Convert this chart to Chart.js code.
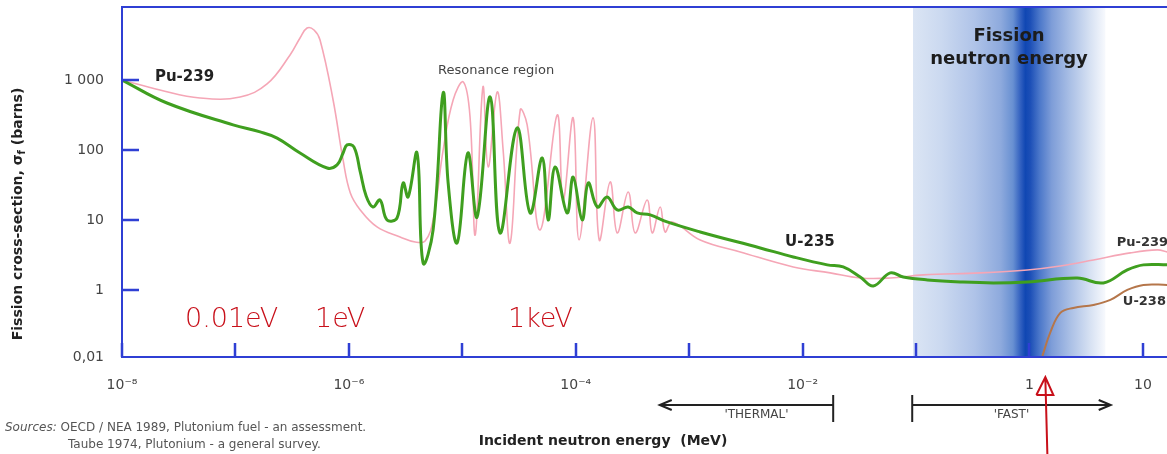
<!DOCTYPE html>
<html>
<head>
<meta charset="utf-8">
<script src="https://cdn.jsdelivr.net/npm/chart.js@4.4.1/dist/chart.umd.min.js"></script>
<style>
  html, body { margin: 0; padding: 0; background: #fff; }
  #wrap { width: 1167px; height: 454px; position: relative; }
</style>
</head>
<body>
<div id="wrap"><canvas id="grafico"></canvas></div>
<script>
// energy in MeV, fission cross-section in barns
const u235Energy = [1e-8, 2.49e-8, 9.53e-8, 1.65e-7, 2.33e-7, 3.71e-7, 6.43e-7, 7.87e-7, 8.89e-7, 9.64e-7,
  1.11e-6, 1.26e-6, 1.42e-6, 1.63e-6, 1.88e-6, 2.17e-6, 2.66e-6, 3.01e-6, 3.33e-6, 3.99e-6,
  4.51e-6, 5.53e-6, 6.78e-6, 7.50e-6, 9.00e-6, 1.12e-5, 1.35e-5, 1.76e-5, 2.15e-5, 3.04e-5,
  3.96e-5, 5.06e-5, 5.71e-5, 6.58e-5, 8.39e-5, 9.49e-5, 1.14e-4, 1.29e-4, 1.55e-4, 1.89e-4,
  2.32e-4, 2.90e-4, 3.48e-4, 4.53e-4, 6.39e-4, 1.25e-3, 4.23e-3, 8.27e-3, 1.65e-2, 2.28e-2,
  3.22e-2, 4.20e-2, 5.92e-2, 7.71e-2, 0.126, 0.245, 0.480, 0.957, 2.64, 4.48, 7.28, 10.1, 16.4];
const u235Sigma = [1000, 469, 228, 181, 148, 90.6, 55.3, 61.1, 90.6, 118,
  110, 48.5, 22.0, 15.3, 19.3, 10, 10.7, 33.8, 21.3, 90.6,
  2.43, 7.2, 652, 33.8, 4.7, 90.6, 11.0, 572, 6.52, 206,
  12.6, 76.9, 10, 57.2, 12.6, 41.1, 10, 33.8, 15.3, 21.3,
  13.9, 15.3, 12.6, 11.8, 9.36, 6.74, 3.98, 2.96, 2.28, 2.13,
  1.53, 1.14, 1.75, 1.53, 1.39, 1.30, 1.26, 1.30, 1.48, 1.26, 1.93, 2.28, 2.28];

const pu239Energy = [1e-8, 2.16e-8, 4.87e-8, 1.10e-7, 1.90e-7, 3.03e-7, 3.71e-7, 4.28e-7, 4.93e-7, 5.57e-7,
  7.26e-7, 8.89e-7, 1.03e-6, 1.26e-6, 1.77e-6, 2.83e-6, 3.84e-6, 4.70e-6, 5.53e-6, 6.78e-6,
  8.30e-6, 1.02e-5, 1.17e-5, 1.30e-5, 1.52e-5, 1.69e-5, 2.03e-5, 2.29e-5, 2.64e-5, 3.24e-5,
  3.73e-5, 4.85e-5, 6.86e-5, 7.74e-5, 9.49e-5, 1.07e-4, 1.42e-4, 1.61e-4, 2.01e-4, 2.32e-4,
  2.90e-4, 3.34e-4, 4.26e-4, 4.72e-4, 5.55e-4, 6.14e-4, 7.08e-4, 1.25e-3, 2.82e-3, 8.27e-3,
  1.75e-2, 3.22e-2, 5.92e-2, 0.116, 0.368, 0.957, 1.87, 3.66, 7.74, 13.4, 16.4];
const pu239Sigma = [1000, 720, 553, 572, 877, 2275, 3981, 5530, 5180, 3728,
  518, 72, 24.3, 13.9, 7.94, 5.72, 4.85, 5.01, 10, 100,
  518, 936, 296, 6.1, 794, 57, 674, 100, 4.7, 373,
  228, 7.2, 316, 19.3, 287, 5.18, 287, 5.18, 34.9, 6.52,
  25.1, 6.52, 19.3, 6.52, 15.3, 6.74, 9.36, 5.18, 3.49, 2.13,
  1.75, 1.48, 1.48, 1.64, 1.75, 1.93, 2.20, 2.68, 3.38, 3.73, 3.49];

const u238Energy = [1.30, 1.52, 1.87, 2.43, 3.66, 5.16, 7.28, 10.1, 16.4];
const u238Sigma = [0.114, 0.243, 0.469, 0.553, 0.610, 0.720, 1.0, 1.18, 1.18];

// axes
const xTicks = [1e-8, 1e-7, 1e-6, 1e-5, 1e-4, 1e-3, 1e-2, 1e-1, 1, 10];
const xTickLabels = ["10⁻⁸", "", "10⁻⁶", "", "10⁻⁴", "", "10⁻²", "", "1", "10"];
const yTicks = [0.11, 1, 10, 100, 1000];
const yTickLabels = ["0,01", "1", "10", "100", "1 000"];
const xMin = 1e-8, xMax = 16.3, yMin = 0.11, yMax = 11040;

// fission neutron energy band (MeV)
const bandStart = 0.094, bandPeak = 0.92, bandEnd = 4.66;
// 'THERMAL' / 'FAST' brackets (MeV) and the red arrow
const thermalFrom = 5.5e-4, thermalTo = 0.0186;
const fastFrom = 0.0925, fastTo = 5.2;
const arrowAt = 1.38;

const axisColor = "#2f3fd4";

Chart.defaults.font.family = "'DejaVu Sans', sans-serif";

function pontos(en, sg) {
  return en.map((e, i) => ({ x: e, y: sg[i] }));
}

// blue band behind the curves
const faixa = {
  id: "faixa",
  beforeDatasetsDraw(chart) {
    const { ctx, chartArea: a, scales: { x } } = chart;
    const xl = x.getPixelForValue(bandStart);
    const xc = x.getPixelForValue(bandPeak);
    const xr = x.getPixelForValue(bandEnd);
    const w = xr - xl;
    const f = (px) => Math.min(1, Math.max(0, (px - xl) / w));
    const g = ctx.createLinearGradient(xl, 0, xr, 0);
    const left = [[0, "#dbe5f4"], [0.25, "#cbd9f0"], [0.55, "#afc3e8"], [0.78, "#8eaadd"],
      [0.89, "#6890d2"], [0.96, "#2f5ebf"], [1, "#1047b3"]];
    const right = [[0.06, "#1c4fb7"], [0.18, "#4c78ca"], [0.33, "#7e9dd8"], [0.55, "#a8bee5"],
      [0.8, "#d5e0f2"], [1, "#f7f9fd"]];
    left.forEach(([t, c]) => g.addColorStop(f(xl + t * (xc - xl)), c));
    right.forEach(([t, c]) => g.addColorStop(f(xc + t * (xr - xc)), c));
    ctx.save();
    ctx.fillStyle = g;
    ctx.fillRect(xl, a.top, w, a.bottom - a.top);
    ctx.restore();
  }
};

// frame and inward ticks
const moldura = {
  id: "moldura",
  afterDatasetsDraw(chart) {
    const { ctx, chartArea: a, scales: { x, y } } = chart;
    ctx.save();
    ctx.strokeStyle = axisColor;
    ctx.lineWidth = 2.5;
    ctx.beginPath();
    yTicks.forEach((v) => {
      if (v === yMin) return;
      const py = Math.round(y.getPixelForValue(v));
      ctx.moveTo(a.left, py);
      ctx.lineTo(a.left + 17, py);
    });
    xTicks.forEach((v) => {
      const px = Math.round(x.getPixelForValue(v));
      ctx.moveTo(px, a.bottom);
      ctx.lineTo(px, a.bottom - 14);
    });
    ctx.stroke();
    ctx.lineWidth = 2;
    ctx.beginPath();
    ctx.moveTo(a.right, a.top);
    ctx.lineTo(a.left, a.top);
    ctx.lineTo(a.left, a.bottom);
    ctx.lineTo(a.right, a.bottom);
    ctx.stroke();
    ctx.restore();
  }
};

// labels, titles, brackets, notes
const textos = {
  id: "textos",
  afterDraw(chart) {
    const { ctx, scales: { x, y } } = chart;
    ctx.save();
    ctx.textBaseline = "middle";
    ctx.fillStyle = "#222";

    ctx.font = "bold 15px 'DejaVu Sans'";
    ctx.textAlign = "left";
    ctx.fillText("Pu-239", x.getPixelForValue(1.95e-8), y.getPixelForValue(1104));
    ctx.textAlign = "center";
    ctx.fillText("U-235", x.getPixelForValue(1.16e-2), y.getPixelForValue(4.85));
    ctx.font = "bold 13px 'DejaVu Sans'";
    ctx.fillStyle = "#333";
    ctx.fillText("Pu-239", x.getPixelForValue(9.9), y.getPixelForValue(4.69));
    ctx.fillText("U-238", x.getPixelForValue(10.3), y.getPixelForValue(0.674));

    ctx.font = "13px 'DejaVu Sans'";
    ctx.fillStyle = "#444";
    ctx.textAlign = "left";
    ctx.fillText("Resonance region", x.getPixelForValue(6.12e-6), y.getPixelForValue(1345));

    ctx.font = "bold 18px 'DejaVu Sans'";
    ctx.fillStyle = "#1c1c1c";
    ctx.textAlign = "center";
    const bx = x.getPixelForValue(0.66);
    ctx.fillText("Fission", bx, 36);
    ctx.fillText("neutron energy", bx, 59);

    // y axis title with subscript f
    ctx.save();
    ctx.translate(18, 214);
    ctx.rotate(-Math.PI / 2);
    ctx.fillStyle = "#222";
    const p1 = "Fission cross-section, σ", p2 = "f", p3 = " (barns)";
    ctx.font = "bold 14px 'DejaVu Sans'";
    const w1 = ctx.measureText(p1).width, w3 = ctx.measureText(p3).width;
    ctx.font = "bold 10px 'DejaVu Sans'";
    const w2 = ctx.measureText(p2).width;
    let cx = -(w1 + w2 + w3) / 2;
    ctx.textAlign = "left";
    ctx.font = "bold 14px 'DejaVu Sans'";
    ctx.fillText(p1, cx, 0);
    ctx.font = "bold 10px 'DejaVu Sans'";
    ctx.fillText(p2, cx + w1, 4);
    ctx.font = "bold 14px 'DejaVu Sans'";
    ctx.fillText(p3, cx + w1 + w2, 0);
    ctx.restore();

    // x axis title
    ctx.font = "bold 14px 'DejaVu Sans'";
    ctx.fillStyle = "#222";
    ctx.textAlign = "center";
    ctx.fillText("Incident neutron energy  (MeV)", 603, 441);

    // sources
    ctx.font = "italic 12px 'DejaVu Sans'";
    ctx.fillStyle = "#555";
    ctx.textAlign = "left";
    ctx.fillText("Sources:", 5, 428);
    const ws = ctx.measureText("Sources: ").width;
    ctx.font = "12px 'DejaVu Sans'";
    ctx.fillText("OECD / NEA 1989, Plutonium fuel - an assessment.", 5 + ws, 428);
    ctx.fillText("Taube 1974, Plutonium - a general survey.", 68, 445);

    // THERMAL / FAST brackets
    const t0 = x.getPixelForValue(thermalFrom), t1 = x.getPixelForValue(thermalTo);
    const f0 = x.getPixelForValue(fastFrom), f1 = x.getPixelForValue(fastTo);
    const ay = 405;
    ctx.strokeStyle = "#222";
    ctx.lineWidth = 2;
    ctx.beginPath();
    ctx.moveTo(t0, ay); ctx.lineTo(t1, ay);
    ctx.moveTo(t0 + 12, ay - 5); ctx.lineTo(t0, ay); ctx.lineTo(t0 + 12, ay + 5);
    ctx.moveTo(t1, ay - 10); ctx.lineTo(t1, ay + 17);
    ctx.moveTo(f0, ay - 10); ctx.lineTo(f0, ay + 17);
    ctx.moveTo(f0, ay); ctx.lineTo(f1, ay);
    ctx.moveTo(f1 - 12, ay - 5); ctx.lineTo(f1, ay); ctx.lineTo(f1 - 12, ay + 5);
    ctx.stroke();
    ctx.font = "12px 'DejaVu Sans'";
    ctx.fillStyle = "#444";
    ctx.textAlign = "center";
    ctx.fillText("'THERMAL'", (t0 + t1) / 2 + 10, 415);
    ctx.fillText("'FAST'", (f0 + f1) / 2, 415);

    // red handwritten notes
    ctx.fillStyle = "#c8101a";
    ctx.strokeStyle = "#c8101a";
    ctx.font = "200 27px 'DejaVu Sans'";
    ctx.textAlign = "left";
    ctx.textBaseline = "alphabetic";
    ctx.fillText("0.01eV", 185, 327);
    ctx.fillText("1eV", 315, 327);
    ctx.fillText("1keV", 508, 327);
    const rx = x.getPixelForValue(arrowAt);
    ctx.lineWidth = 2;
    ctx.beginPath();
    ctx.moveTo(rx + 2, 454); ctx.lineTo(rx, 379);
    ctx.moveTo(rx - 9, 395); ctx.lineTo(rx, 377); ctx.lineTo(rx + 8, 395); ctx.lineTo(rx - 9, 395);
    ctx.stroke();
    ctx.restore();
  }
};

new Chart(document.getElementById("grafico"), {
  type: "line",
  data: {
    datasets: [
      {
        label: "U-235",
        data: pontos(u235Energy, u235Sigma),
        borderColor: "#3f9f1f",
        borderWidth: 3,
      },
      {
        label: "Pu-239",
        data: pontos(pu239Energy, pu239Sigma),
        borderColor: "#f5a6b6",
        borderWidth: 1.6,
      },
      {
        label: "U-238",
        data: pontos(u238Energy, u238Sigma),
        borderColor: "#b5764a",
        borderWidth: 2,
      },
    ],
  },
  options: {
    responsive: true,
    maintainAspectRatio: false,
    devicePixelRatio: 1,
    animation: false,
    layout: { padding: { top: 7, left: 0, right: 0, bottom: 0 } },
    elements: {
      point: { radius: 0 },
      line: { tension: 0.4, fill: false },
    },
    plugins: {
      legend: { display: false },
      tooltip: { enabled: false },
    },
    scales: {
      x: {
        type: "logarithmic",
        min: xMin,
        max: xMax,
        grid: { display: false, drawTicks: false },
        border: { display: false },
        afterBuildTicks: (s) => { s.ticks = xTicks.map((v) => ({ value: v })); },
        afterFit: (s) => { s.height = 97; s.paddingLeft = 0; s.paddingRight = 0; },
        ticks: {
          autoSkip: false,
          maxRotation: 0,
          padding: 20,
          color: "#444",
          font: { size: 14 },
          callback: (v, i) => xTickLabels[i],
        },
      },
      y: {
        type: "logarithmic",
        min: yMin,
        max: yMax,
        grid: { display: false, drawTicks: false },
        border: { display: false },
        afterBuildTicks: (s) => { s.ticks = yTicks.map((v) => ({ value: v })); },
        afterFit: (s) => { s.width = 122; s.paddingTop = 0; s.paddingBottom = 0; },
        ticks: {
          autoSkip: false,
          padding: 18,
          color: "#444",
          font: { size: 14 },
          callback: (v, i) => yTickLabels[i],
        },
      },
    },
  },
  plugins: [faixa, moldura, textos],
});
</script>
</body>
</html>
